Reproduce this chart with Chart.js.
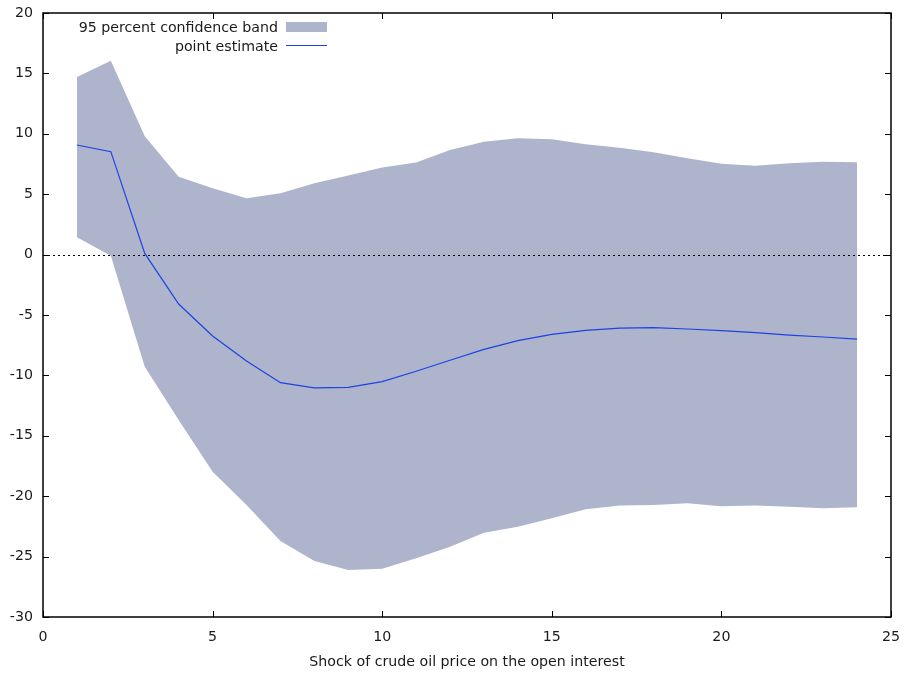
<!DOCTYPE html>
<html>
<head>
<meta charset="utf-8">
<script src="https://cdn.jsdelivr.net/npm/chart.js@4/dist/chart.umd.min.js"></script>
<style>
  html, body { margin: 0; padding: 0; background: #fff; }
  #wrap { width: 906px; height: 677px; position: relative; }
</style>
</head>
<body>
<div id="wrap"><canvas id="irf-chart"></canvas></div>
<script>
const horizons = [1, 2, 3, 4, 5, 6, 7, 8, 9, 10, 11, 12, 13, 14, 15, 16, 17, 18, 19, 20, 21, 22, 23, 24];
const upperBand = [14.7, 16.05, 9.8, 6.45, 5.5, 4.66, 5.07, 5.9, 6.55, 7.2, 7.62, 8.66, 9.35, 9.63, 9.54, 9.13, 8.85, 8.47, 7.97, 7.53, 7.36, 7.56, 7.69, 7.64];
const lowerBand = [1.43, -0.1, -9.28, -13.7, -17.97, -20.73, -23.71, -25.36, -26.11, -26.0, -25.14, -24.18, -23.02, -22.52, -21.83, -21.09, -20.76, -20.73, -20.59, -20.84, -20.76, -20.87, -21.0, -20.92];
const pointEstimate = [9.07, 8.52, 0.1, -4.09, -6.74, -8.81, -10.6, -11.04, -10.99, -10.52, -9.66, -8.75, -7.84, -7.12, -6.6, -6.27, -6.08, -6.05, -6.16, -6.3, -6.46, -6.66, -6.82, -6.99];
const xTicks = [0, 5, 10, 15, 20, 25];
const yTicks = [-30, -25, -20, -15, -10, -5, 0, 5, 10, 15, 20];

const bandColor = "#aeb4cc";
const lineColor = "#1a44e2";
const textColor = "#1a1a1a";
const fontFamily = "'DejaVu Sans', Verdana, sans-serif";
const fontSize = 14.2;

const toPoints = (ys) => horizons.map((h, i) => ({ x: h, y: ys[i] }));

// gnuplot style frame: box + inward ticks on all sides + dotted zero line + legend
const framePlugin = {
  id: "frame",
  afterDraw(chart) {
    const ctx = chart.ctx;
    const a = chart.chartArea;
    const xs = chart.scales.x;
    const ys = chart.scales.y;
    const tick = 6;
    ctx.save();

    // zero line
    ctx.strokeStyle = "#000";
    ctx.lineWidth = 1;
    ctx.setLineDash([2, 3]);
    const y0 = Math.round(ys.getPixelForValue(0)) + 0.5;
    ctx.beginPath();
    ctx.moveTo(a.left, y0);
    ctx.lineTo(a.right, y0);
    ctx.stroke();
    ctx.setLineDash([]);

    ctx.lineWidth = 1;
    ctx.beginPath();
    xTicks.forEach((v) => {
      const px = Math.round(xs.getPixelForValue(v)) + 0.5;
      ctx.moveTo(px, a.bottom);
      ctx.lineTo(px, a.bottom - tick);
      ctx.moveTo(px, a.top);
      ctx.lineTo(px, a.top + tick);
    });
    yTicks.forEach((v) => {
      const py = Math.round(ys.getPixelForValue(v)) + 0.5;
      ctx.moveTo(a.left, py);
      ctx.lineTo(a.left + tick, py);
      ctx.moveTo(a.right, py);
      ctx.lineTo(a.right - tick, py);
    });
    ctx.stroke();

    ctx.lineWidth = 1.5;
    ctx.strokeRect(a.left, a.top, a.right - a.left, a.bottom - a.top);

    // legend
    const band = chart.data.datasets[2];
    const est = chart.data.datasets[0];
    ctx.font = fontSize + "px " + fontFamily;
    ctx.fillStyle = textColor;
    ctx.textAlign = "right";
    ctx.textBaseline = "middle";
    ctx.fillText(band.label, 278, 28);
    ctx.fillText(est.label, 278, 47);
    ctx.fillStyle = band.backgroundColor;
    ctx.fillRect(286, 22, 41, 10);
    ctx.strokeStyle = est.borderColor;
    ctx.lineWidth = 1;
    ctx.beginPath();
    ctx.moveTo(286, 45.5);
    ctx.lineTo(327, 45.5);
    ctx.stroke();
    ctx.restore();
  },
};

const ctx = document.getElementById("irf-chart");
const chart = new Chart(ctx, {
  type: "line",
  data: {
    datasets: [
      {
        label: "point estimate",
        data: toPoints(pointEstimate),
        borderColor: lineColor,
        borderWidth: 1.2,
        pointRadius: 0,
        fill: false,
        tension: 0,
      },
      {
        label: "lower",
        data: toPoints(lowerBand),
        borderWidth: 0,
        pointRadius: 0,
        fill: false,
        tension: 0,
      },
      {
        label: "95 percent confidence band",
        data: toPoints(upperBand),
        borderWidth: 0,
        borderColor: bandColor,
        backgroundColor: bandColor,
        pointRadius: 0,
        fill: "-1",
        tension: 0,
      },
    ],
  },
  options: {
    responsive: true,
    maintainAspectRatio: false,
    animation: false,
    layout: { padding: { top: 13, right: 15, left: 0, bottom: 0 } },
    plugins: {
      legend: { display: false },
      tooltip: { enabled: false },
      filler: { propagate: false },
    },
    scales: {
      x: {
        type: "linear",
        min: 0,
        max: 25,
        afterBuildTicks: (s) => { s.ticks = xTicks.map((v) => ({ value: v })); },
        afterFit: (s) => { s.height = 60; s.paddingLeft = 0; s.paddingRight = 0; },
        grid: { display: false, drawTicks: false },
        border: { display: false },
        ticks: {
          color: textColor,
          font: { family: fontFamily, size: fontSize },
          padding: 12,
          maxRotation: 0,
        },
        title: {
          display: true,
          text: "Shock of crude oil price on the open interest",
          color: textColor,
          font: { family: fontFamily, size: fontSize },
          padding: { top: 6, bottom: 6 },
        },
      },
      y: {
        type: "linear",
        min: -30,
        max: 20,
        afterBuildTicks: (s) => { s.ticks = yTicks.map((v) => ({ value: v })); },
        afterFit: (s) => { s.width = 43; s.paddingTop = 0; s.paddingBottom = 0; },
        grid: { display: false, drawTicks: false },
        border: { display: false },
        ticks: {
          color: textColor,
          font: { family: fontFamily, size: fontSize },
          padding: 10,
        },
      },
    },
  },
  plugins: [framePlugin],
});
</script>
</body>
</html>
